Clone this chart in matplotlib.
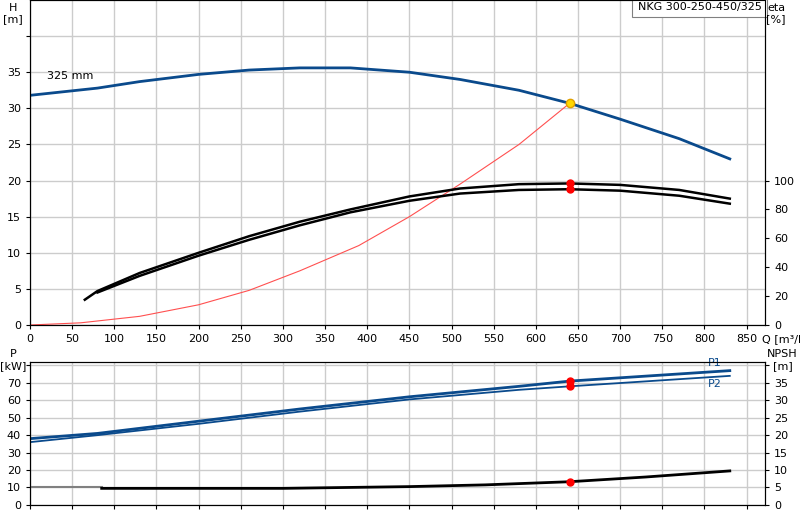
import numpy as np
import matplotlib.pyplot as plt

# pump curve data
q_h = [0, 80, 130, 200, 260, 320, 380, 450, 510, 580, 640, 700, 770, 830]
h = [31.8, 32.8, 33.7, 34.7, 35.3, 35.6, 35.6, 35.0, 34.0, 32.5, 30.7, 28.5, 25.8, 23.0]
q_sys = [0, 60, 130, 200, 260, 320, 390, 450, 510, 580, 640]
h_sys = [0, 0.3, 1.2, 2.8, 4.8, 7.5, 11.0, 15.0, 19.5, 25.0, 30.7]
q_eta1 = [65, 80, 130, 200, 260, 320, 380, 450, 510, 580, 640, 700, 770, 830]
eta1 = [17.5, 23.5, 36, 50, 61.5, 71.5, 80, 89, 94.5, 97.5, 98, 97, 93.5, 87.5]
q_eta2 = [80, 130, 200, 260, 320, 380, 450, 510, 580, 640, 700, 770, 830]
eta2 = [22.5, 34, 48, 59, 69, 78, 86, 91, 93.5, 94, 93, 89.5, 84]
q_p = [0, 80, 200, 320, 450, 580, 640, 830]
p1 = [38, 41, 48, 55, 62, 68, 71, 77]
p2 = [36, 40, 46.5, 53.5, 60.5, 66, 68, 74]
q_npsh = [85, 200, 300, 450, 540, 640, 730, 830]
npsh = [4.75, 4.75, 4.75, 5.25, 5.75, 6.65, 8.0, 9.75]
q_duty = 640

blue = '#0a4a8c'
fig = plt.figure(figsize=(8, 5.2), dpi=100)
ax = fig.add_axes([0.0375, 0.375, 0.919, 0.625])
ax2 = ax.twinx()
bx = fig.add_axes([0.0375, 0.029, 0.919, 0.275])
bx2 = bx.twinx()

for a in (ax, bx):
    a.set_xlim(0, 872)
    a.set_xticks(np.arange(0, 851, 50))
    a.grid(True, color='#cccccc', lw=1)
    a.set_axisbelow(True)
    a.tick_params(labelsize=8, length=3)
ax.set_ylim(0, 45)
ax.set_yticks(np.arange(0, 41, 5))
ax.set_yticklabels([str(v) for v in range(0, 36, 5)] + [''])
ax2.set_ylim(0, 225)
ax2.set_yticks(np.arange(0, 101, 20))
ax2.tick_params(labelsize=8, length=3)
bx.set_ylim(0, 82)
bx.set_yticks(np.arange(0, 81, 10))
bx.set_yticklabels([str(v) for v in range(0, 71, 10)] + [''])
bx.set_xticklabels([])
bx2.set_ylim(0, 41)
bx2.set_yticks(np.arange(0, 41, 5))
bx2.set_yticklabels([str(v) for v in range(0, 36, 5)] + [''])
bx2.tick_params(labelsize=8, length=3)

ax.plot(q_h, h, color=blue, lw=2)
ax.plot(q_sys, h_sys, color='#ff5050', lw=0.8)
ax.plot(q_duty, 30.7, 'o', color='#ffd700', mec='#e0a000', ms=6)
ax.text(20, 34.1, '325 mm', fontsize=8)
ax2.plot(q_eta1, eta1, color='black', lw=1.8)
ax2.plot(q_eta2, eta2, color='black', lw=1.8)
ax2.plot([q_duty, q_duty], [98, 94], 'o', color='red', ms=5)

bx.plot(q_p, p1, color=blue, lw=2)
bx.plot(q_p, p2, color=blue, lw=1.3)
bx.plot([q_duty, q_duty], [71, 68], 'o', color='red', ms=5)
bx.text(820, 78.5, 'P1', color=blue, fontsize=8, ha='right', va='bottom')
bx.text(820, 72, 'P2', color=blue, fontsize=8, ha='right', va='top')
bx2.plot([0, 85], [5, 5], color='gray', lw=1.5)
bx2.plot(q_npsh, npsh, color='black', lw=2)
bx2.plot(q_duty, 6.65, 'o', color='red', ms=5)

fig.text(0.016, 0.995, 'H\n[m]', fontsize=8, ha='center', va='top')
fig.text(0.97, 0.995, 'eta\n[%]', fontsize=8, ha='center', va='top')
fig.text(0.952, 0.357, 'Q [m³/h]', fontsize=8, ha='left', va='top')
fig.text(0.016, 0.328, 'P\n[kW]', fontsize=8, ha='center', va='top')
fig.text(0.978, 0.328, 'NPSH\n[m]', fontsize=8, ha='center', va='top')
ax.text(0.995, 0.995, 'NKG 300-250-450/325', transform=ax.transAxes, fontsize=8,
        ha='right', va='top', bbox=dict(fc='white', ec='gray', lw=0.8))
fig.savefig('out.png')
